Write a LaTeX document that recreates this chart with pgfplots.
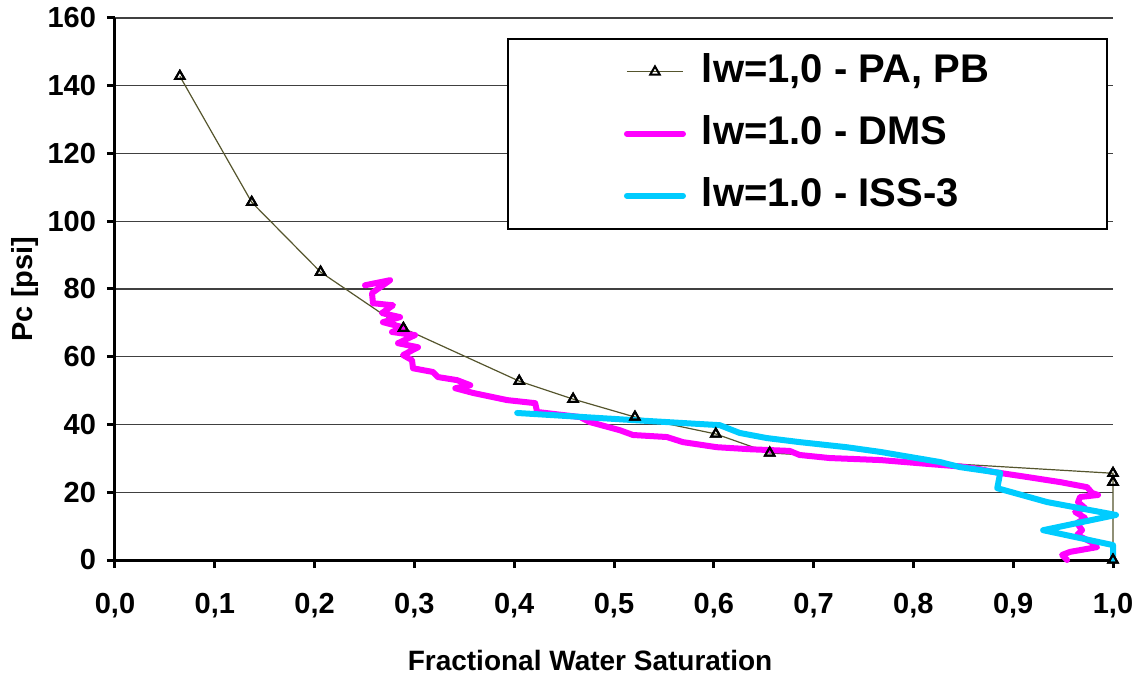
\documentclass[border=0pt]{standalone}
\usepackage{fontspec}
\setmainfont{Liberation Sans}
\usepackage{pgfplots}
\pgfplotsset{compat=1.18}

\definecolor{dms}{RGB}{255,0,255}
\definecolor{iss}{RGB}{0,204,255}
\definecolor{pab}{RGB}{85,85,45}

\begin{document}
\begin{tikzpicture}
\begin{axis}[
    scale only axis,
    width=499pt, height=271pt,
    xmin=0, xmax=1, ymin=0, ymax=160,
    clip=false,
    axis x line*=bottom, axis y line*=left,
    axis line style={-, line width=1.5pt, black},
    xtick={0,0.1,0.2,0.3,0.4,0.5,0.6,0.7,0.8,0.9,1.0},
    xticklabels={{0,0},{0,1},{0,2},{0,3},{0,4},{0,5},{0,6},{0,7},{0,8},{0,9},{1,0}},
    ytick={0,20,40,60,80,100,120,140,160},
    tick align=outside,
    major tick length=4pt,
    tick style={line width=1.5pt, black},
    ymajorgrids,
    major grid style={line width=0.6pt, black!75},
    tick label style={font=\fontsize{14.5}{14.5}\selectfont\bfseries},
    xticklabel style={yshift=-9pt},
    yticklabel style={xshift=-2pt},
    /pgf/number format/assume math mode=true,
    xlabel={Fractional Water Saturation},
    ylabel={Pc [psi]},
    every axis x label/.style={at={(axis description cs:0.476,-0.1845)}, anchor=center,
        font=\fontsize{14}{14}\selectfont\bfseries},
    every axis y label/.style={at={(axis description cs:-0.0902,0.5)}, anchor=center, rotate=90,
        font=\fontsize{14.5}{14.5}\selectfont\bfseries},
    legend style={at={(0.393,0.963)}, anchor=north west,
        draw=black, line width=0.75pt, fill=white,
        font=\fontsize{20}{20}\selectfont\bfseries,
        inner xsep=58pt, inner ysep=6pt, row sep=10pt,
        nodes={inner sep=1pt, text height=15pt, text depth=4pt},
        /tikz/every odd column/.append style={column sep=7pt}},
    legend cell align=left,
    legend image code/.code={\draw[mark repeat=2, mark phase=2, #1] plot coordinates {(0pt,0pt) (14pt,0pt) (28pt,0pt)};},
]
\coordinate (bl) at (rel axis cs:0,0);
\coordinate (tr) at (rel axis cs:1,1);

% PA, PB measured points
\addplot[pab, line width=0.6pt, mark=triangle, mark size=2.7pt,
    mark options={black, fill=white, line width=1pt}] coordinates {
    (0.065,142.8) (0.137,105.6) (0.206,85.0) (0.289,68.4) (0.405,52.8)
    (0.459,47.5) (0.521,42.2) (0.602,37.2) (0.656,31.6)
    (1.0,25.6) (1.0,23.0) (1.0,0.0)
};
\addlegendentry{lw=1,0 - PA, PB}

% DMS
\addplot[dms, line width=3pt, line join=round, line cap=round] coordinates {
    (0.2505,81.1) (0.2756,82.6) (0.2575,78.8) (0.2585,75.8) (0.2786,75.2)
    (0.2675,72.9) (0.2856,71.7) (0.2685,70.2) (0.2886,68.7) (0.2776,67.3)
    (0.3006,66.4) (0.2836,64.0) (0.3036,62.8) (0.2886,60.5) (0.2976,59.0)
    (0.2986,56.6) (0.3186,55.5) (0.3236,54.0) (0.3427,53.1) (0.356,51.6)
    (0.341,50.7) (0.359,49.3) (0.393,47.2) (0.421,46.3) (0.423,43.7)
    (0.466,42.2) (0.476,40.7) (0.506,38.3) (0.519,36.9) (0.553,36.3)
    (0.569,34.8) (0.603,33.3) (0.636,32.7) (0.676,32.2) (0.686,31.0)
    (0.716,30.1) (0.767,29.5) (0.817,28.3) (0.847,27.6) (0.867,26.8)
    (0.880,26.0) (0.914,24.5) (0.947,23.0) (0.974,21.5) (0.979,19.8)
    (0.985,19.2) (0.967,18.6) (0.965,17.1) (0.972,15.3) (0.962,14.2)
    (0.972,12.4) (0.964,10.9) (0.969,8.8) (0.964,7.4) (0.980,5.0)
    (0.984,3.8) (0.957,2.4) (0.949,1.5) (0.954,0.0)
};
\addlegendentry{lw=1.0 - DMS}

% ISS-3
\addplot[iss, line width=3pt, line join=round, line cap=round] coordinates {
    (0.403,43.4) (0.486,41.9) (0.519,41.3) (0.606,39.8) (0.626,37.5)
    (0.653,36.0) (0.686,34.8) (0.733,33.3) (0.767,31.9) (0.827,28.9)
    (0.847,27.4) (0.887,25.7) (0.884,21.2) (0.934,17.1) (1.003,13.3)
    (0.930,8.8) (1.0,4.4) (1.0,0.0)
};
\addlegendentry{lw=1.0 - ISS-3}

% markers on top
\addplot[only marks, mark=triangle, mark size=2.7pt,
    mark options={black, fill=white, line width=1pt}, forget plot] coordinates {
    (0.065,142.8) (0.137,105.6) (0.206,85.0) (0.289,68.4) (0.405,52.8)
    (0.459,47.5) (0.521,42.2) (0.602,37.2) (0.656,31.6)
    (1.0,25.6) (1.0,23.0) (1.0,0.0)
};
\end{axis}
\pgfresetboundingbox
\path[use as bounding box] ([xshift=-57.5pt,yshift=-57pt]bl) rectangle ([xshift=13.5pt,yshift=9pt]tr);
\end{tikzpicture}
\end{document}
